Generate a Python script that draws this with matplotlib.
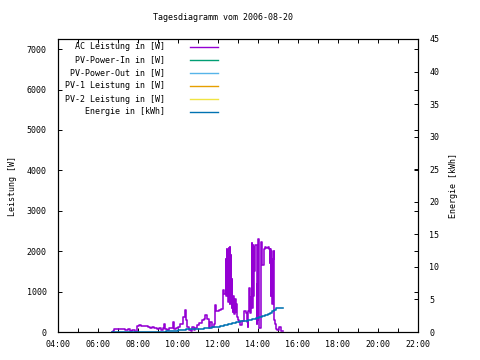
import matplotlib
matplotlib.use("Agg")
import matplotlib.pyplot as plt
from matplotlib.ticker import FixedLocator, FuncFormatter

# ---------------------- Daten (Stunden / W / kWh) ----------------------
ac_time = [6.70, 6.75, 6.82, 6.95, 7.05, 7.20, 7.35, 7.50, 7.62, 7.72, 7.85, 7.97,
           8.05, 8.15, 8.35, 8.50, 8.62, 8.72, 8.82, 8.95, 9.05, 9.15, 9.25, 9.30,
           9.35, 9.45, 9.55, 9.70, 9.75, 9.82, 9.92, 10.02, 10.10, 10.18, 10.27, 10.35,
           10.40, 10.45, 10.55, 10.65, 10.70, 10.78, 10.85, 10.95, 11.05, 11.18, 11.30, 11.35,
           11.45, 11.55, 11.62, 11.72, 11.80, 11.85, 11.92, 12.05, 12.15, 12.25, 12.30, 12.38,
           12.40, 12.42, 12.44, 12.46, 12.48, 12.50, 12.52, 12.54, 12.56, 12.58, 12.60, 12.62,
           12.64, 12.66, 12.68, 12.70, 12.72, 12.74, 12.76, 12.78, 12.80, 12.82, 12.85, 12.88,
           12.92, 12.96, 13.00, 13.06, 13.12, 13.18, 13.30, 13.38, 13.44, 13.48, 13.52, 13.55,
           13.60, 13.64, 13.68, 13.72, 13.74, 13.76, 13.78, 13.82, 13.86, 13.90, 13.93, 13.96,
           13.98, 14.02, 14.07, 14.13, 14.20, 14.22, 14.30, 14.36, 14.42, 14.50, 14.56, 14.60,
           14.62, 14.64, 14.66, 14.68, 14.70, 14.72, 14.74, 14.78, 14.80, 14.86, 14.90, 14.97,
           15.07, 15.13, 15.23]
ac_power = [0, 30, 70, 65, 80, 75, 60, 65, 25, 40, 10, 150,
            175, 140, 145, 130, 105, 120, 95, 80, 90, 40, 100, 205,
            80, 40, 100, 110, 250, 70, 90, 130, 200, 210, 370, 540,
            300, 120, 60, 20, 120, 60, 90, 170, 230, 300, 320, 410,
            330, 90, 250, 120, 200, 660, 520, 540, 560, 1040, 950, 1750,
            1800, 900, 2050, 1700, 800, 2000, 750, 2080, 1900, 700, 2100, 900,
            1900, 850, 1300, 600, 850, 500, 900, 550, 600, 450, 820, 500,
            700, 380, 300, 250, 180, 280, 520, 480, 250, 120, 520, 1100,
            480, 870, 2190, 600, 2150, 900, 2100, 1500, 2150, 2150, 200, 1200,
            300, 2310, 100, 2230, 2200, 1660, 2050, 2100, 2080, 2100, 2050, 1700,
            2050, 900, 2000, 1000, 1900, 700, 1800, 2000, 300, 200, 80, 50,
            130, 30, 30]

energy_time = [6.70, 8.60, 9.40, 10.00, 10.40, 10.90, 11.30, 11.70, 12.10, 12.30, 12.50,
               12.70, 12.90, 13.10, 13.30, 13.50, 13.70, 13.90, 14.05, 14.20, 14.35, 14.50,
               14.62, 14.72, 14.80, 14.90, 15.23]
energy_kwh = [0.00, 0.05, 0.10, 0.25, 0.40, 0.50, 0.65, 0.80, 0.90, 1.10, 1.30,
              1.45, 1.55, 1.65, 1.75, 1.90, 2.00, 2.15, 2.30, 2.45, 2.60, 2.75,
              2.95, 3.20, 3.45, 3.65, 3.70]

legend_labels = ["AC Leistung in [W]", "PV-Power-In in [W]", "PV-Power-Out in [W]",
                 "PV-1 Leistung in [W]", "PV-2 Leistung in [W]", "Energie in [kWh]"]
legend_colors = ["#9400D3", "#009E73", "#56B4E9", "#E69F00", "#F0E442", "#0072B2"]

x_ticks = list(range(4, 23, 2))
power_ticks = list(range(0, 7001, 1000))
energy_ticks = list(range(0, 46, 5))

FONT = "DejaVu Sans Mono"
plt.rcParams["font.family"] = FONT
plt.rcParams["font.size"] = 6

fig = plt.figure(figsize=(4.8, 3.6), dpi=100)
ax1 = fig.add_axes([58 / 480, 28 / 360, 360 / 480, 293 / 360])
ax2 = ax1.twinx()

ax1.plot(ac_time, ac_power, color=legend_colors[0], linewidth=1.15, drawstyle="steps-post")
ax2.plot(energy_time, energy_kwh, color=legend_colors[5], linewidth=1.15, drawstyle="steps-post")

ax1.set_xlim(4, 22)
ax1.set_ylim(0, 7250)
ax2.set_ylim(0, 45)

ax1.xaxis.set_major_locator(FixedLocator(x_ticks))
ax1.xaxis.set_minor_locator(FixedLocator(list(range(4, 23))))
ax1.xaxis.set_major_formatter(FuncFormatter(lambda v, p: "%02d:00" % int(v)))
ax1.yaxis.set_major_locator(FixedLocator(power_ticks))
ax2.yaxis.set_major_locator(FixedLocator(energy_ticks))

ax1.tick_params(axis="both", which="both", direction="in", top=True, right=True,
                length=3, width=0.7, labelsize=6)
ax1.tick_params(axis="y", pad=8)
ax1.tick_params(axis="x", pad=6)
ax2.tick_params(axis="y", direction="in", length=3, width=0.7, labelsize=6, pad=8)

for a in (ax1, ax2):
    for s in a.spines.values():
        s.set_linewidth(0.8)

ax1.set_ylabel("Leistung [W]", fontsize=6)
ax1.yaxis.set_label_coords(-0.113, 0.5)
ax2.set_ylabel("Energie [kWh]", fontsize=6)
ax2.yaxis.set_label_coords(1.085, 0.5)

fig.text(223 / 480, 1 - 18 / 360, "Tagesdiagramm vom 2006-08-20",
         ha="center", va="center", fontsize=6)

# Legende wie bei gnuplot: Text rechtsbuendig, Linie rechts daneben
row_y = [0.974, 0.929, 0.884, 0.840, 0.795, 0.751]
for lab, col, yy in zip(legend_labels, legend_colors, row_y):
    ax1.text(0.297, yy, lab, transform=ax1.transAxes, ha="right", va="center", fontsize=6)
    ax1.plot([0.367, 0.444], [yy, yy], transform=ax1.transAxes, color=col, linewidth=1.0)

fig.savefig("out.png", dpi=100)
